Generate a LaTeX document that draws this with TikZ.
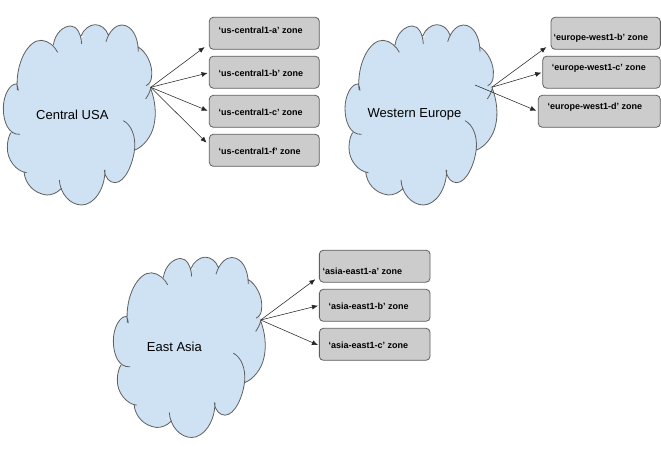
\documentclass[tikz,border=0pt]{standalone}
\usepackage{fontspec}
\setmainfont{Liberation Sans}
\usetikzlibrary{arrows.meta}
\definecolor{cloudblue}{HTML}{CFE2F3}
\definecolor{zonegray}{HTML}{CCCCCC}
\definecolor{edgegray}{HTML}{5F5F5F}
\tikzset{
  zonebox/.style={draw=edgegray,fill=zonegray,line width=0.8pt,rounded corners=4pt,inner sep=0pt},
  zonetext/.style={anchor=west,inner sep=0pt,font=\fontsize{9}{10}\selectfont\bfseries,text=black},
  cloudtext/.style={anchor=west,inner sep=0pt,font=\fontsize{13}{15}\selectfont,text=black},
  link/.style={draw=black!85,line width=0.55pt,-{Latex[length=6pt,width=5pt]}}
}
\newcommand{\cloudcore}{
  (33,398) -- (52,255) -- (160,132) -- (245,110) -- (322,100) -- (415,140) -- (452,262) -- (405,450) -- (314,510) -- (182,562) -- (75,517) -- cycle
}
\newcommand{\cloudlobes}{
  (60,403) .. controls (25,405) and (10,365) .. (10,325) .. controls (10,285) and (30,250) .. (50,252) .. controls (53,258) and (54,265) .. (55,272)
  (52,270) .. controls (45,190) and (85,118) .. (125,121) .. controls (145,122) and (165,140) .. (173,157)
  (160,135) .. controls (165,100) and (190,78) .. (212,78) .. controls (230,78) and (243,100) .. (245,132)
  (243,108) .. controls (250,88) and (270,74) .. (285,74) .. controls (302,74) and (318,85) .. (325,105)
  (318,125) .. controls (328,92) and (348,75) .. (365,75) .. controls (395,75) and (415,110) .. (415,155)
  (413,140) .. controls (440,155) and (458,195) .. (455,225) .. controls (455,240) and (450,252) .. (438,257)
  (437,297) .. controls (445,285) and (450,275) .. (452,265) .. controls (465,300) and (470,340) .. (462,375) .. controls (455,410) and (430,440) .. (405,450)
  (370,362) .. controls (395,375) and (407,410) .. (404,445) .. controls (400,490) and (375,548) .. (345,548) .. controls (330,548) and (315,535) .. (313,510)
  (315,510) .. controls (315,570) and (280,615) .. (245,615) .. controls (210,615) and (180,580) .. (178,540)
  (185,565) .. controls (170,580) and (155,585) .. (140,585) .. controls (100,580) and (75,550) .. (72,515)
  (80,518) .. controls (50,515) and (20,480) .. (22,440) .. controls (22,425) and (27,405) .. (33,398)
}
\newcommand{\regioncloud}[2]{
  \begin{scope}[shift={(#1,#2)},x=0.3333pt,y=-0.3333pt]
    \fill[cloudblue] \cloudcore \cloudlobes;
    \draw[edgegray,line width=0.8pt] \cloudlobes;
  \end{scope}
}
\begin{document}
\begin{tikzpicture}[x=1pt,y=-1pt]
\useasboundingbox (0,0) rectangle (661,456);
\fill[white] (0,0) rectangle (661,456);
\regioncloud{0}{0}
\regioncloud{341.67}{0}
\regioncloud{110}{232.5}
% cloud labels
\node[cloudtext] (usa) at (36,114.7) {Central USA};
\node[cloudtext] (eur) at (367.5,114.7) {Western Europe};
\node[cloudtext] (asia) at (146.7,347.3) {East Asia};
% connector origins
\coordinate (usaO) at (150.7,87.3);
\coordinate (eurO) at (491.7,87.3);
\coordinate (eurP) at (475,85);
\coordinate (asiaO) at (260.7,320);
% boxes
\node[zonebox,minimum width=110pt,minimum height=32pt] (ua) at (264.3,33.3) {};
\node[zonebox,minimum width=110pt,minimum height=32pt] (ub) at (264.3,72.2) {};
\node[zonebox,minimum width=110pt,minimum height=32pt] (uc) at (264.3,111.3) {};
\node[zonebox,minimum width=110pt,minimum height=32pt] (uf) at (264.3,150.3) {};
\node[zonebox,minimum width=109.3pt,minimum height=32pt] (eb) at (605.7,33.3) {};
\node[zonebox,minimum width=117.6pt,minimum height=32pt] (ec) at (601.5,72.2) {};
\node[zonebox,minimum width=122pt,minimum height=32pt] (ed) at (599.3,111.3) {};
\node[zonebox,minimum width=110.7pt,minimum height=32pt] (aa) at (374.7,266.2) {};
\node[zonebox,minimum width=110.7pt,minimum height=32pt] (ab) at (374.7,305.3) {};
\node[zonebox,minimum width=110.7pt,minimum height=32pt] (ac) at (374.7,344.3) {};
% zone labels
\node[zonetext] (tua) at (218.3,30) {‘us-central1-a’ zone};
\node[zonetext] (tub) at (218.3,73) {‘us-central1-b’ zone};
\node[zonetext] (tuc) at (218.3,112) {‘us-central1-c’ zone};
\node[zonetext] (tuf) at (218.3,151) {‘us-central1-f’ zone};
\node[zonetext] (teb) at (553.3,37.7) {‘europe-west1-b’ zone};
\node[zonetext] (tec) at (551.7,68) {‘europe-west1-c’ zone};
\node[zonetext] (ted) at (547.3,106.7) {‘europe-west1-d’ zone};
\node[zonetext] (taa) at (322.3,271) {‘asia-east1-a’ zone};
\node[zonetext] (tab) at (328.3,306) {‘asia-east1-b’ zone};
\node[zonetext] (tac) at (328.3,345) {‘asia-east1-c’ zone};
% connectors
\draw[link] (usaO) -- ([shift={(-4.3,-2.6)}]ua.south west);
\draw[link] (usaO) -- ([shift={(-1.3,0.8)}]ub.west);
\draw[link] (usaO) -- ([shift={(-1.3,-0.6)}]uc.west);
\draw[link] (usaO) -- ([shift={(-2.3,-7.6)}]uf.west);
\draw[link] (eurO) -- ([shift={(-4.3,-2.6)}]eb.south west);
\draw[link] (eurO) -- ([shift={(-1,0.5)}]ec.west);
\draw[link] (eurP) -- ([shift={(-1.6,-0.6)}]ed.west);
\draw[link] (asiaO) -- ([shift={(-3.6,-3.3)}]aa.south west);
\draw[link] (asiaO) -- ([shift={(-1,0.4)}]ab.west);
\draw[link] (asiaO) -- ([shift={(-1,0.7)}]ac.west);
\end{tikzpicture}
\end{document}
